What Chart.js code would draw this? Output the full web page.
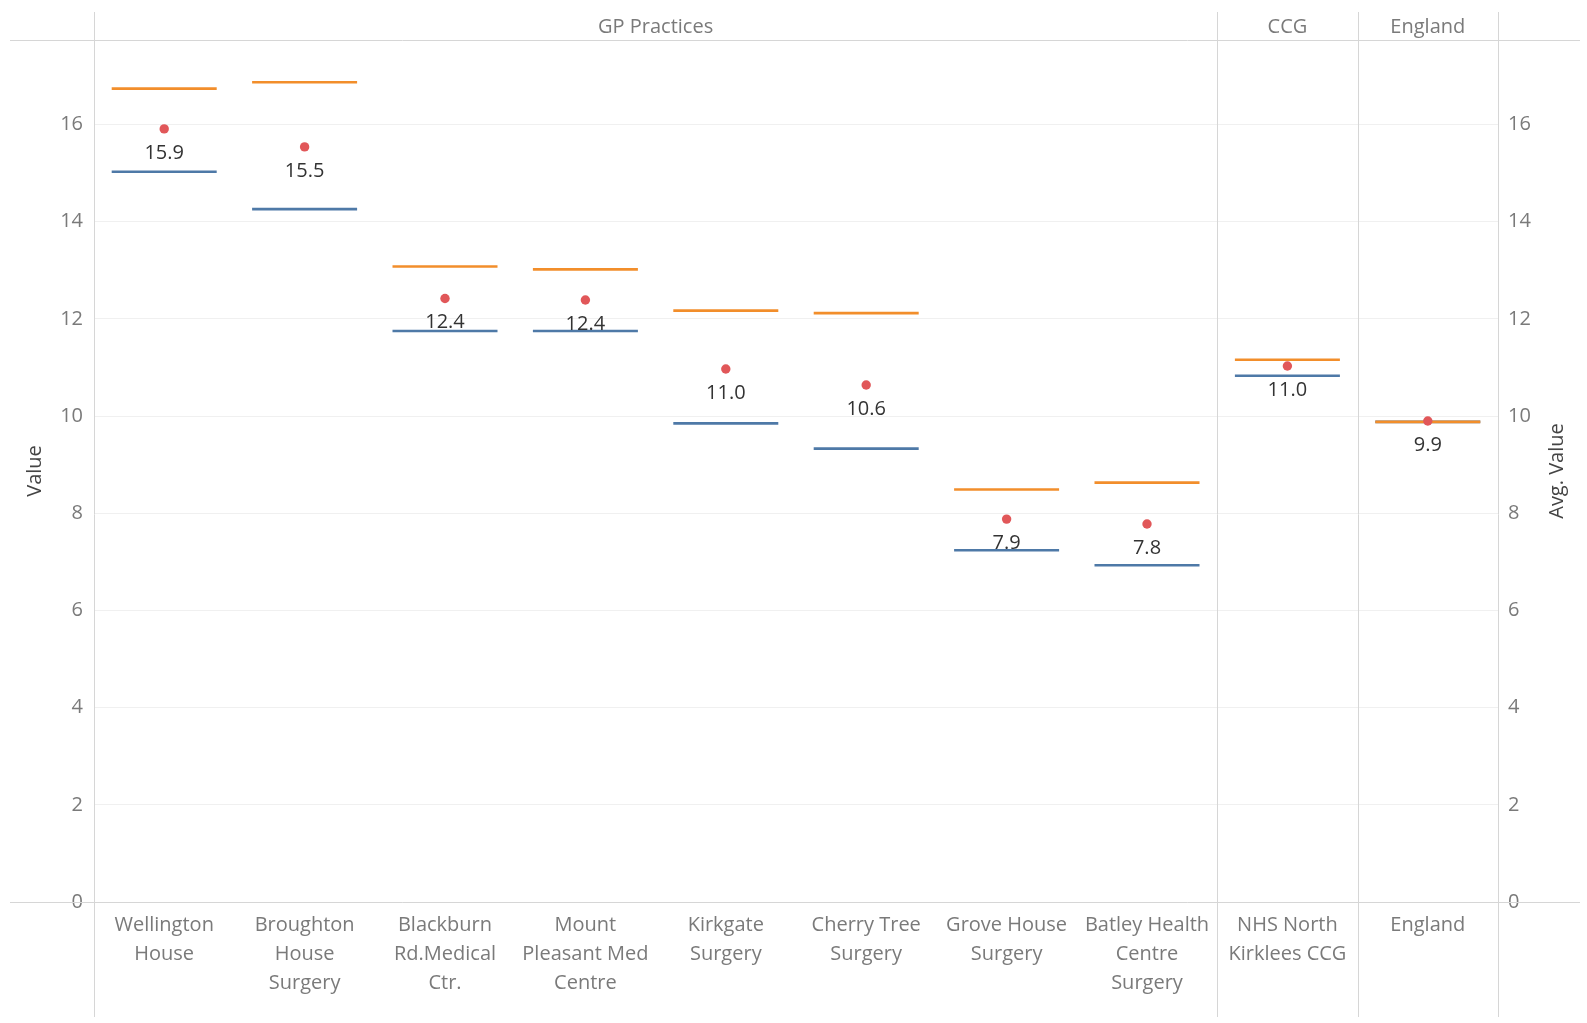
<!DOCTYPE html>
<html>
<head>
<meta charset="utf-8">
<style>
  html, body { margin: 0; padding: 0; background: #fff; }
  #wrap { width: 1587px; height: 1023px; }
</style>
<script src="https://cdn.jsdelivr.net/npm/chart.js@4.4.1/dist/chart.umd.min.js"></script>
</head>
<body>
<div id="wrap"><canvas id="ciChart" width="1587" height="1023"></canvas></div>
<script>
// categories (multi-line labels as shown under each column)
const categories = [
  ["Wellington", "House"],
  ["Broughton", "House", "Surgery"],
  ["Blackburn", "Rd.Medical", "Ctr."],
  ["Mount", "Pleasant Med", "Centre"],
  ["Kirkgate", "Surgery"],
  ["Cherry Tree", "Surgery"],
  ["Grove House", "Surgery"],
  ["Batley Health", "Centre", "Surgery"],
  ["NHS North", "Kirklees CCG"],
  ["England"]
];
const groupNames = ["GP Practices", "CCG", "England"];
const groupSizes = [8, 1, 1];

const values = [15.91, 15.54, 12.42, 12.39, 10.97, 10.64, 7.88, 7.78, 11.03, 9.9];
const upperCI = [16.74, 16.87, 13.08, 13.02, 12.17, 12.12, 8.49, 8.63, 11.16, 9.88];
const lowerCI = [15.03, 14.26, 11.75, 11.75, 9.85, 9.33, 7.24, 6.93, 10.83, 9.88];
const yTicks = [0, 2, 4, 6, 8, 10, 12, 14, 16];
const yMax = 17.74;

const FONT = "'Open Sans', 'DejaVu Sans', sans-serif";
const GREY = "#7a7a7a";
const RULE = "#d6d6d6";

// header row, separators, axis titles and value labels
const decorations = {
  id: "decorations",
  beforeDatasetsDraw(chart) {
    const { ctx, chartArea: ca } = chart;
    const colW = (ca.right - ca.left) / categories.length;
    ctx.save();
    ctx.strokeStyle = RULE;
    ctx.lineWidth = 1;
    // horizontal rules
    [ca.top, ca.bottom].forEach(y => {
      ctx.beginPath();
      ctx.moveTo(10, Math.round(y) + 0.5);
      ctx.lineTo(1580, Math.round(y) + 0.5);
      ctx.stroke();
    });
    // vertical separators
    let idx = 0;
    const xs = [ca.left];
    groupSizes.forEach(n => { idx += n; xs.push(ca.left + idx * colW); });
    xs.forEach(x => {
      ctx.beginPath();
      ctx.moveTo(Math.round(x) + 0.5, 12);
      ctx.lineTo(Math.round(x) + 0.5, 1017);
      ctx.stroke();
    });
    // group headers
    ctx.fillStyle = GREY;
    ctx.font = "20px " + FONT;
    ctx.textAlign = "center";
    ctx.textBaseline = "middle";
    groupNames.forEach((g, i) => {
      ctx.fillText(g, (xs[i] + xs[i + 1]) / 2, 27);
    });
    // axis titles
    ctx.fillStyle = "#444";
    [[35, "Value"], [1557, "Avg. Value"]].forEach(([x, t]) => {
      ctx.save();
      ctx.translate(x, (ca.top + ca.bottom) / 2);
      ctx.rotate(-Math.PI / 2);
      ctx.fillText(t, 0, 0);
      ctx.restore();
    });
    ctx.restore();
  },
  afterDatasetsDraw(chart) {
    const { ctx } = chart;
    const meta = chart.getDatasetMeta(0);
    ctx.save();
    ctx.fillStyle = "#333";
    ctx.font = "20px " + FONT;
    ctx.textAlign = "center";
    ctx.textBaseline = "middle";
    meta.data.forEach((pt, i) => {
      ctx.fillText(values[i].toFixed(1), pt.x, pt.y + 24);
    });
    ctx.restore();
  }
};

const markDataset = (label, data, color, style, radius, width) => ({
  label,
  data,
  showLine: false,
  clip: false,
  pointStyle: style,
  pointRadius: radius,
  pointHoverRadius: radius,
  pointBorderWidth: width,
  borderColor: color,
  backgroundColor: color,
  pointBackgroundColor: color,
  pointBorderColor: color,
  yAxisID: "y"
});

const yAxis = (position, padding) => ({
  position,
  min: 0,
  max: yMax,
  afterBuildTicks: s => { s.ticks = yTicks.map(v => ({ value: v })); },
  afterFit: s => { s.width = position === "left" ? 94 : 89; },
  grid: { display: position === "left", color: "#f0f0f0", drawTicks: false },
  border: { display: false },
  ticks: { color: GREY, padding, font: { family: FONT, size: 20 } }
});

new Chart(document.getElementById("ciChart"), {
  type: "line",
  data: {
    labels: categories,
    datasets: [
      markDataset("Value", values, "#e15759", "circle", 4.7, 0),
      markDataset("Upper CI", upperCI, "#f28e2b", "line", 52.5, 2.6),
      markDataset("Lower CI", lowerCI, "#4e79a7", "line", 52.5, 2.6)
    ]
  },
  plugins: [decorations],
  options: {
    responsive: false,
    devicePixelRatio: 1,
    animation: false,
    // wide 'line' markers would otherwise push the plot area in
    layout: { autoPadding: false, padding: { top: 40, left: 0, right: 0, bottom: 0 } },
    plugins: { legend: { display: false }, tooltip: { enabled: false } },
    scales: {
      x: {
        offset: true,
        afterFit: s => { s.height = 121; },
        grid: { display: false },
        border: { display: false },
        ticks: {
          color: GREY,
          autoSkip: false,
          maxRotation: 0,
          minRotation: 0,
          padding: 1,
          font: { family: FONT, size: 20, lineHeight: 1.45 }
        }
      },
      y: yAxis("left", 11),
      y2: yAxis("right", 10)
    }
  }
});
</script>
</body>
</html>
